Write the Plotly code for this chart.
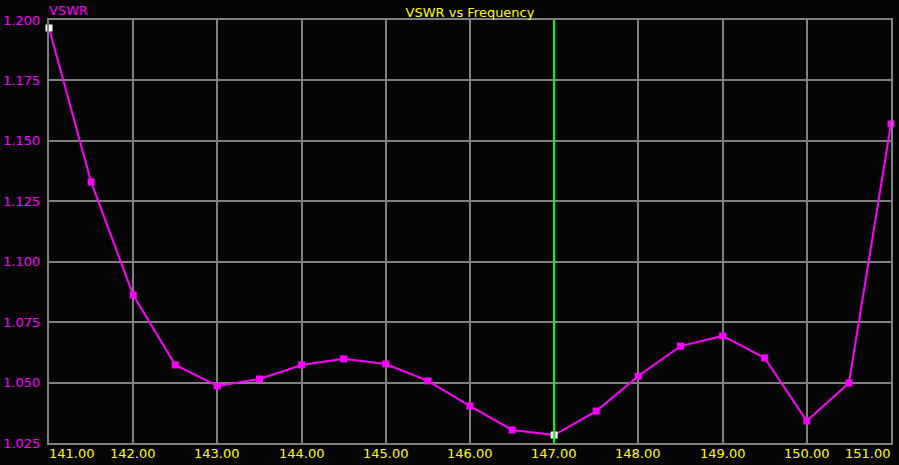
import plotly.graph_objects as go

freq = [141.0, 141.5, 142.0, 142.5, 143.0, 143.5, 144.0, 144.5, 145.0, 145.5,
        146.0, 146.5, 147.0, 147.5, 148.0, 148.5, 149.0, 149.5, 150.0, 150.5, 151.0]
vswr = [1.1967, 1.1330, 1.0862, 1.0573, 1.0486, 1.0515, 1.0573, 1.0598, 1.0577, 1.0507,
        1.0403, 1.0304, 1.0283, 1.0382, 1.0527, 1.0651, 1.0693, 1.0602, 1.0341, 1.0498, 1.1570]

cursor_freq = 147.0
x_ticks = [141, 142, 143, 144, 145, 146, 147, 148, 149, 150, 151]
x_tick_text = ['141.00', '142.00', '143.00', '144.00', '145.00', '146.00',
               '147.00', '148.00', '149.00', '150.00', '151.00']
y_ticks = [1.025, 1.050, 1.075, 1.100, 1.125, 1.150, 1.175, 1.200]

MAGENTA = '#ff00ff'
YELLOW = '#ffff00'
GRID = '#808080'
FONT = 'DejaVu Sans'

# first point and the cursor point are highlighted white
marker_colors = ['#ffffff' if (i == 0 or f == cursor_freq) else MAGENTA for i, f in enumerate(freq)]

fig = go.Figure()
fig.add_trace(go.Scatter(
    x=freq, y=vswr, mode='lines+markers',
    line=dict(color=MAGENTA, width=2),
    marker=dict(symbol='square', size=7, color=marker_colors, line=dict(width=0)),
    cliponaxis=False,
    showlegend=False,
))

# cursor line
fig.add_shape(type='line', x0=cursor_freq, x1=cursor_freq, y0=0, y1=1,
              xref='x', yref='paper', line=dict(color='#00ff00', width=2))

# x tick labels as annotations so the end labels stay inside the plot width
for i, (xv, txt) in enumerate(zip(x_ticks, x_tick_text)):
    anchor = 'left' if i == 0 else ('right' if i == len(x_ticks) - 1 else 'center')
    fig.add_annotation(x=xv, y=0, xref='x', yref='paper', text=txt, showarrow=False,
                       xanchor=anchor, yanchor='top', yshift=-1,
                       xshift=-2 if anchor == 'left' else (2 if anchor == 'right' else 0),
                       font=dict(family=FONT, size=13, color=YELLOW))

fig.add_annotation(x=0, y=1, xref='paper', yref='paper', text='VSWR', showarrow=False,
                   xanchor='left', yanchor='bottom', yshift=0, xshift=-2,
                   font=dict(family=FONT, size=13, color=MAGENTA))

fig.update_layout(
    width=899, height=465,
    margin=dict(l=49, r=8, t=20, b=22, autoexpand=False),
    paper_bgcolor='#050505', plot_bgcolor='#050505',
    title=dict(text='VSWR vs Frequency', x=0.5, xref='paper', xanchor='center',
               y=1, yref='paper', yanchor='bottom', pad=dict(b=3),
               font=dict(family=FONT, size=13, color=YELLOW)),
    font=dict(family=FONT, size=13),
)
fig.update_xaxes(range=[141, 151], tickvals=x_ticks, showticklabels=False,
                 showgrid=True, gridcolor=GRID, gridwidth=2,
                 showline=True, linecolor=GRID, linewidth=2, mirror=True,
                 zeroline=False, ticks='', automargin=False)
fig.update_yaxes(range=[1.025, 1.200], tickvals=y_ticks, tickformat='.3f',
                 tickfont=dict(family=FONT, size=13, color=MAGENTA),
                 showgrid=True, gridcolor=GRID, gridwidth=2,
                 showline=True, linecolor=GRID, linewidth=2, mirror=True,
                 zeroline=False, ticks='', ticklabelstandoff=4, automargin=False)

fig.write_html('out.html', config={'displayModeBar': False},
               post_script="document.body.style.margin='0';")
